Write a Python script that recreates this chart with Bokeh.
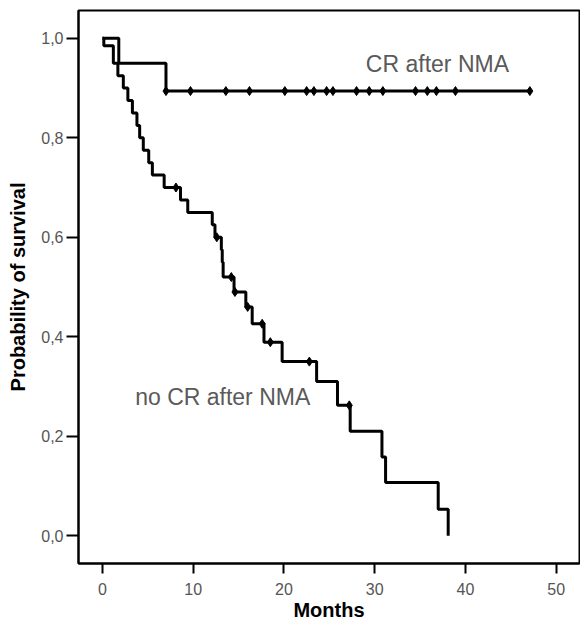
from bokeh.plotting import figure
from bokeh.models import Range1d, FixedTicker, CustomJSTickFormatter, Label
from bokeh.embed import file_html
from bokeh.resources import INLINE

# --- Data (Kaplan-Meier curves) ---
cr_times = [0.0, 1.8, 7.0, 47.1]
cr_surv = [1.0, 0.95, 0.894, 0.894]
cr_cens_times = [7.0, 9.7, 13.6, 16.2, 20.1, 22.5, 23.3, 24.7, 25.4, 28.0,
                 29.4, 30.9, 34.5, 35.8, 36.8, 38.9, 47.1]
cr_cens_surv = [0.894] * len(cr_cens_times)

nocr_times = [0.0, 0.15, 1.2, 1.7, 2.3, 2.8, 3.3, 3.8, 4.1, 4.5, 5.1, 5.5, 6.8,
              8.6, 9.4, 12.1, 12.4, 13.1, 13.2, 13.3, 14.5, 15.8, 16.5, 17.8,
              19.8, 23.6, 25.9, 27.3, 30.8, 31.2, 37.0, 38.1]
nocr_surv = [1.0, 0.985, 0.95, 0.925, 0.90, 0.875, 0.85, 0.825, 0.80, 0.775,
             0.75, 0.725, 0.70, 0.675, 0.65, 0.625, 0.60, 0.575, 0.55, 0.52,
             0.49, 0.46, 0.426, 0.389, 0.35, 0.31, 0.262, 0.21, 0.158, 0.107,
             0.053, 0.0]
nocr_cens_times = [8.1, 12.6, 14.2, 14.6, 16.0, 17.6, 18.5, 22.8, 27.2]
nocr_cens_surv = [0.70, 0.60, 0.52, 0.49, 0.46, 0.426, 0.389, 0.35, 0.262]

x_ticks = [0, 10, 20, 30, 40, 50]
y_ticks = [0.0, 0.2, 0.4, 0.6, 0.8, 1.0]

FONT = "Liberation Sans"
X0, X1 = -2.64, 52.57
Y0, Y1 = -0.056, 1.056

p = figure(width=580, height=626, output_backend="svg", toolbar_location=None,
           x_range=Range1d(X0, X1), y_range=Range1d(Y0, Y1),
           min_border_left=78, min_border_right=1, min_border_top=10,
           min_border_bottom=63)

p.grid.visible = False
p.background_fill_color = "white"
p.border_fill_color = "white"
p.outline_line_color = "black"
p.outline_line_width = 2

# curves
p.step(cr_times, cr_surv, mode="after", line_color="black", line_width=3)
p.step(nocr_times, nocr_surv, mode="after", line_color="black", line_width=3)
p.scatter(cr_cens_times, cr_cens_surv, marker="diamond", size=9,
          fill_color="black", line_color="black")
p.scatter(nocr_cens_times, nocr_cens_surv, marker="diamond", size=9,
          fill_color="black", line_color="black")

# annotations
p.add_layout(Label(x=44.8, y=0.948, text="CR after NMA", text_align="right",
                   text_baseline="middle", text_font=FONT,
                   text_font_size="23px", text_color="#5a5a5a"))
p.add_layout(Label(x=22.9, y=0.278, text="no CR after NMA", text_align="right",
                   text_baseline="middle", text_font=FONT,
                   text_font_size="23px", text_color="#5a5a5a"))

# axes
for ax in (p.xaxis[0], p.yaxis[0]):
    ax.axis_line_color = "black"
    ax.axis_line_width = 2
    ax.major_tick_line_color = "black"
    ax.major_tick_line_width = 2
    ax.major_tick_in = 0
    ax.minor_tick_line_color = None
    ax.major_label_text_font = FONT
    ax.major_label_text_font_size = "16px"
    ax.major_label_text_color = "#555555"
    ax.axis_label_text_font = FONT
    ax.axis_label_text_font_style = "bold"
    ax.axis_label_text_font_size = "20px"
    ax.axis_label_text_color = "black"

p.xaxis.ticker = FixedTicker(ticks=x_ticks)
p.xaxis.axis_label = "Months"
p.xaxis.major_tick_out = 10
p.xaxis.major_label_standoff = 9
p.xaxis.axis_label_standoff = 1

p.yaxis.ticker = FixedTicker(ticks=y_ticks)
p.yaxis.formatter = CustomJSTickFormatter(
    code="return tick.toFixed(1).replace('.', ',');")
p.yaxis.axis_label = "Probability of survival"
p.yaxis.major_tick_out = 12
p.yaxis.major_label_standoff = 3
p.yaxis.axis_label_standoff = 9

open("out.html", "w").write(file_html(p, INLINE))
